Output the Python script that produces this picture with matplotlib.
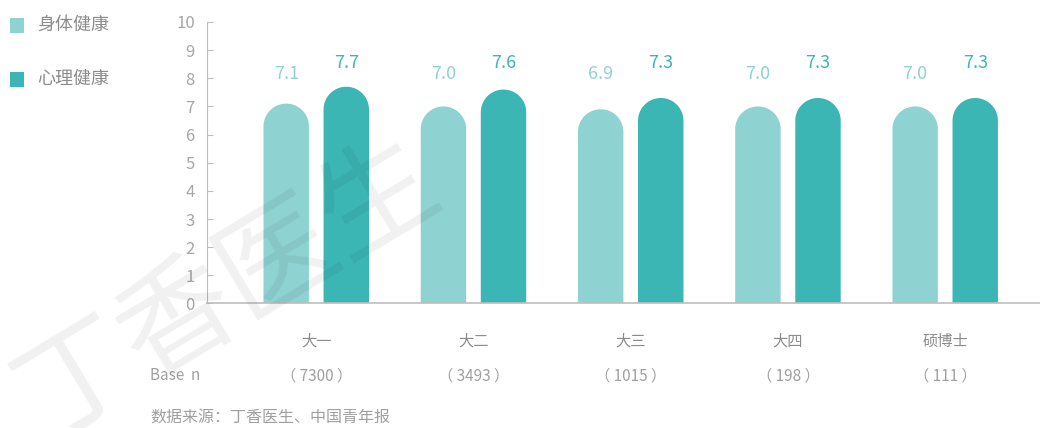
import numpy as np
import matplotlib
matplotlib.use('Agg')
import matplotlib.pyplot as plt
from matplotlib.patches import Polygon, Rectangle

plt.rcParams['font.family'] = ['Noto Sans CJK SC', 'DejaVu Sans']

# data
categories = ['大一', '大二', '大三', '大四', '硕博士']
base_n = ['7300', '3493', '1015', '198', '111']
body = [7.1, 7.0, 6.9, 7.0, 7.0]
mind = [7.7, 7.6, 7.3, 7.3, 7.3]
series_names = ['身体健康', '心理健康']

c_light = '#8ed3d1'
c_dark = '#3cb5b5'
grey = '#a6a6a6'

fig = plt.figure(figsize=(10.4, 4.28), dpi=100)
ax = fig.add_axes([0.1993, 0.291, 0.8007, 0.6576])
ax.set_xlim(-0.693, 4.603)
ax.set_ylim(0, 10)

x = np.arange(len(categories))
w = 0.289
off = 0.191

# radius of the round cap in data units (x and y scales differ)
ax_w_px = 0.8007 * 1040
ax_h_px = 0.6576 * 428
rx = w / 2
ry = rx * (ax_w_px / 5.296) / (ax_h_px / 10)


def round_bar(xc, v, color):
    t = np.linspace(0, np.pi, 60)
    arc = np.column_stack([xc + rx * np.cos(t), v - ry + ry * np.sin(t)])
    pts = np.vstack([[xc + rx, 0], arc, [xc - rx, 0]])
    ax.add_patch(Polygon(pts, closed=True, facecolor=color, edgecolor='none', zorder=2))


for i in range(len(categories)):
    round_bar(x[i] - off, body[i], c_light)
    round_bar(x[i] + off, mind[i], c_dark)
    ax.text(x[i] - off, 8.15, f'{body[i]:.1f}', color=c_light, fontsize=13,
            ha='center', va='center', fontweight='light')
    ax.text(x[i] + off, 8.54, f'{mind[i]:.1f}', color=c_dark, fontsize=13,
            ha='center', va='center')

# axes style
for s in ['top', 'right']:
    ax.spines[s].set_visible(False)
ax.spines['left'].set_color('#bdbdbd')
ax.spines['bottom'].set_color('#bdbdbd')
ax.spines['bottom'].set_linewidth(1.2)
ax.set_yticks(range(0, 11))
ax.tick_params(axis='y', direction='in', length=4, color='#bdbdbd',
               labelcolor=grey, labelsize=12, pad=9)
ax.set_xticks([])

# category labels and base n
for i in range(len(categories)):
    ax.text(x[i], -1.33, categories[i], ha='center', va='center',
            fontsize=11, color='#8c8c8c', clip_on=False)
    ax.text(x[i], -2.58, '（ ' + base_n[i] + ' ）', ha='center', va='center',
            fontsize=11, color='#a0a0a0', clip_on=False)
fig.text(150 / 1040, 1 - 376 / 428, 'Base  n', ha='left', va='center',
         fontsize=11, color='#a0a0a0')
fig.text(150 / 1040, 1 - 418 / 428, '数据来源：丁香医生、中国青年报', ha='left',
         va='center', fontsize=11.5, color='#a0a0a0')

# legend
for j, (name, col) in enumerate(zip(series_names, [c_light, c_dark])):
    yc = 1 - (25 + 54 * j) / 428
    fig.patches.append(Rectangle((10 / 1040, yc - 7.5 / 428), 14 / 1040, 15 / 428,
                                 transform=fig.transFigure, facecolor=col,
                                 edgecolor='none'))
    fig.text(37 / 1040, yc, name, ha='left', va='center', fontsize=13,
             color='#8c8c8c')

# watermark
fig.text(228 / 1040, 1 - 290 / 428, '丁香医生', rotation=31, ha='center',
         va='center', fontsize=84, color='black', alpha=0.06,
         fontweight='light', zorder=10)

fig.savefig('out.png', dpi=100)
